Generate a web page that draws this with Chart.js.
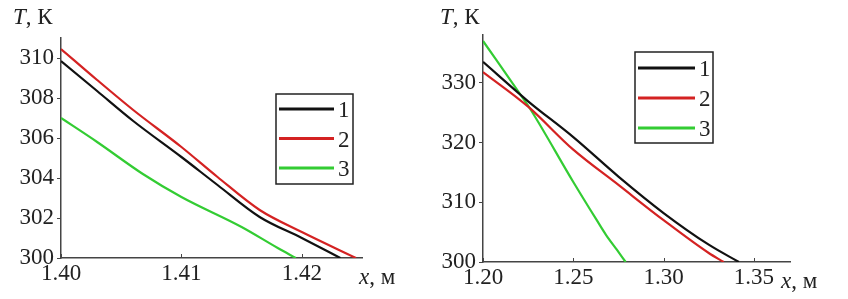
<!DOCTYPE html>
<html>
<head>
<meta charset="utf-8">
<script src="https://cdn.jsdelivr.net/npm/chart.js@4/dist/chart.umd.min.js"></script>
<style>
  body { margin: 0; background: #fff; }
  #wrap { position: relative; width: 848px; height: 299px; }
  canvas { position: absolute; top: 0; }
  .lbl { position: absolute; font-family: "Liberation Serif", serif; font-size: 23px; color: #222; white-space: nowrap; line-height: 1; }
  .lbl i { font-style: italic; }
</style>
</head>
<body>
<div id="wrap">
  <canvas id="left" width="430" height="299" style="left:0"></canvas>
  <canvas id="right" width="418" height="299" style="left:430px"></canvas>
  <div class="lbl" style="left:13px;top:5px"><i>T</i>, К</div>
  <div class="lbl" style="left:359px;top:265px"><i>x</i>, м</div>
  <div class="lbl" style="left:440px;top:5px"><i>T</i>, К</div>
  <div class="lbl" style="left:781px;top:269px"><i>x</i>, м</div>
</div>
<script>
'use strict';

const seriesNames = ['1', '2', '3'];
const seriesColors = ['#111111', '#d42222', '#33cc33'];

// left plot
const leftX1 = [1.400, 1.403, 1.406, 1.410, 1.413, 1.4165, 1.420, 1.4232];
const leftT1 = [309.85, 308.35, 306.85, 305.05, 303.65, 302.05, 301.0, 300.0];
const leftX2 = [1.400, 1.403, 1.406, 1.410, 1.413, 1.4165, 1.420, 1.4245];
const leftT2 = [310.45, 308.9, 307.4, 305.55, 304.05, 302.4, 301.3, 300.0];
const leftX3 = [1.400, 1.403, 1.4068, 1.410, 1.415, 1.418, 1.4195];
const leftT3 = [307.0, 305.8, 304.2, 303.05, 301.55, 300.5, 300.0];
const leftXTicks = [1.40, 1.41, 1.42];
const leftYTicks = [300, 302, 304, 306, 308, 310];

// right plot
const rightX1 = [1.200, 1.225, 1.250, 1.275, 1.300, 1.325, 1.3417];
const rightT1 = [333.5, 326.9, 320.9, 314.3, 308.2, 302.9, 300.0];
const rightX2 = [1.200, 1.225, 1.250, 1.275, 1.300, 1.325, 1.3333];
const rightT2 = [331.8, 326.0, 318.8, 312.9, 307.0, 301.5, 300.0];
const rightX3 = [1.200, 1.2215, 1.226, 1.250, 1.263, 1.268, 1.274, 1.279];
const rightT3 = [337.0, 327.7, 325.7, 313.4, 307.0, 304.6, 302.1, 300.0];
const rightXTicks = [1.20, 1.25, 1.30, 1.35];
const rightYTicks = [300, 310, 320, 330];

const FONT = { family: '"Liberation Serif", serif', size: 23 };

function pts(xs, ys) {
  return xs.map(function (x, i) { return { x: x, y: ys[i] }; });
}

// small inward tick marks on the x axis + boxed legend
const extras = {
  id: 'extras',
  afterDraw(chart, args, opts) {
    const ctx = chart.ctx;
    const xs = chart.scales.x;
    const bottom = chart.chartArea.bottom;
    ctx.save();
    ctx.strokeStyle = '#444';
    ctx.lineWidth = 1;
    xs.ticks.forEach(function (t) {
      const px = Math.round(xs.getPixelForValue(t.value)) + 0.5;
      ctx.beginPath();
      ctx.moveTo(px, bottom);
      ctx.lineTo(px, bottom - 4);
      ctx.stroke();
    });
    const b = opts.box;
    ctx.fillStyle = '#fff';
    ctx.fillRect(b.x, b.y, b.w, b.h);
    ctx.strokeStyle = '#222';
    ctx.lineWidth = 1.5;
    ctx.strokeRect(b.x, b.y, b.w, b.h);
    ctx.font = FONT.size + 'px ' + FONT.family;
    ctx.textBaseline = 'middle';
    chart.data.datasets.forEach(function (ds, i) {
      const y = b.y + b.first + i * b.step;
      ctx.strokeStyle = ds.borderColor;
      ctx.lineWidth = 3;
      ctx.beginPath();
      ctx.moveTo(b.x + 3, y);
      ctx.lineTo(b.x + b.lineW, y);
      ctx.stroke();
      ctx.fillStyle = '#222';
      ctx.fillText(ds.label, b.x + b.lineW + 4, y + 2);
    });
    ctx.restore();
  }
};

function makeChart(id, series, xr, yr, xTicks, yTicks, sizes, box) {
  const datasets = series.map(function (s, i) {
    return {
      label: seriesNames[i],
      data: s,
      borderColor: seriesColors[i],
      borderWidth: 2.2,
      pointRadius: 0,
      showLine: true,
      cubicInterpolationMode: 'monotone',
      fill: false
    };
  });
  return new Chart(document.getElementById(id), {
    type: 'scatter',
    data: { datasets: datasets },
    options: {
      responsive: false,
      animation: false,
      layout: { padding: { top: sizes.top, right: sizes.right, left: 0, bottom: 0 } },
      plugins: { legend: { display: false }, tooltip: { enabled: false }, extras: { box: box } },
      scales: {
        x: {
          type: 'linear', min: xr[0], max: xr[1],
          afterBuildTicks: function (axis) { axis.ticks = xTicks.map(function (v) { return { value: v }; }); },
          afterFit: function (axis) { axis.height = sizes.xh; },
          grid: { display: false, drawTicks: false },
          border: { display: true, color: '#444', width: 1.5 },
          ticks: { color: '#222', font: FONT, padding: 2, maxRotation: 0,
                   callback: function (v) { return Number(v).toFixed(2); } }
        },
        y: {
          type: 'linear', min: yr[0], max: yr[1],
          afterBuildTicks: function (axis) { axis.ticks = yTicks.map(function (v) { return { value: v }; }); },
          afterFit: function (axis) { axis.width = sizes.yw; },
          grid: { display: true, drawOnChartArea: false, drawTicks: true, tickLength: 4, color: '#444' },
          border: { display: true, color: '#444', width: 1.5 },
          ticks: { color: '#222', font: FONT, padding: 3 }
        }
      }
    },
    plugins: [extras]
  });
}

makeChart('left',
  [pts(leftX1, leftT1), pts(leftX2, leftT2), pts(leftX3, leftT3)],
  [1.40, 1.425], [300, 311], leftXTicks, leftYTicks,
  { top: 38, right: 68, xh: 41, yw: 61 },
  { x: 276, y: 94, w: 77, h: 90, first: 15, step: 29.5, lineW: 58 });

makeChart('right',
  [pts(rightX1, rightT1), pts(rightX2, rightT2), pts(rightX3, rightT3)],
  [1.20, 1.37], [300, 338], rightXTicks, rightYTicks,
  { top: 35, right: 58, xh: 37, yw: 53 },
  { x: 205, y: 52, w: 78, h: 91, first: 16, step: 30, lineW: 60 });
</script>
</body>
</html>
